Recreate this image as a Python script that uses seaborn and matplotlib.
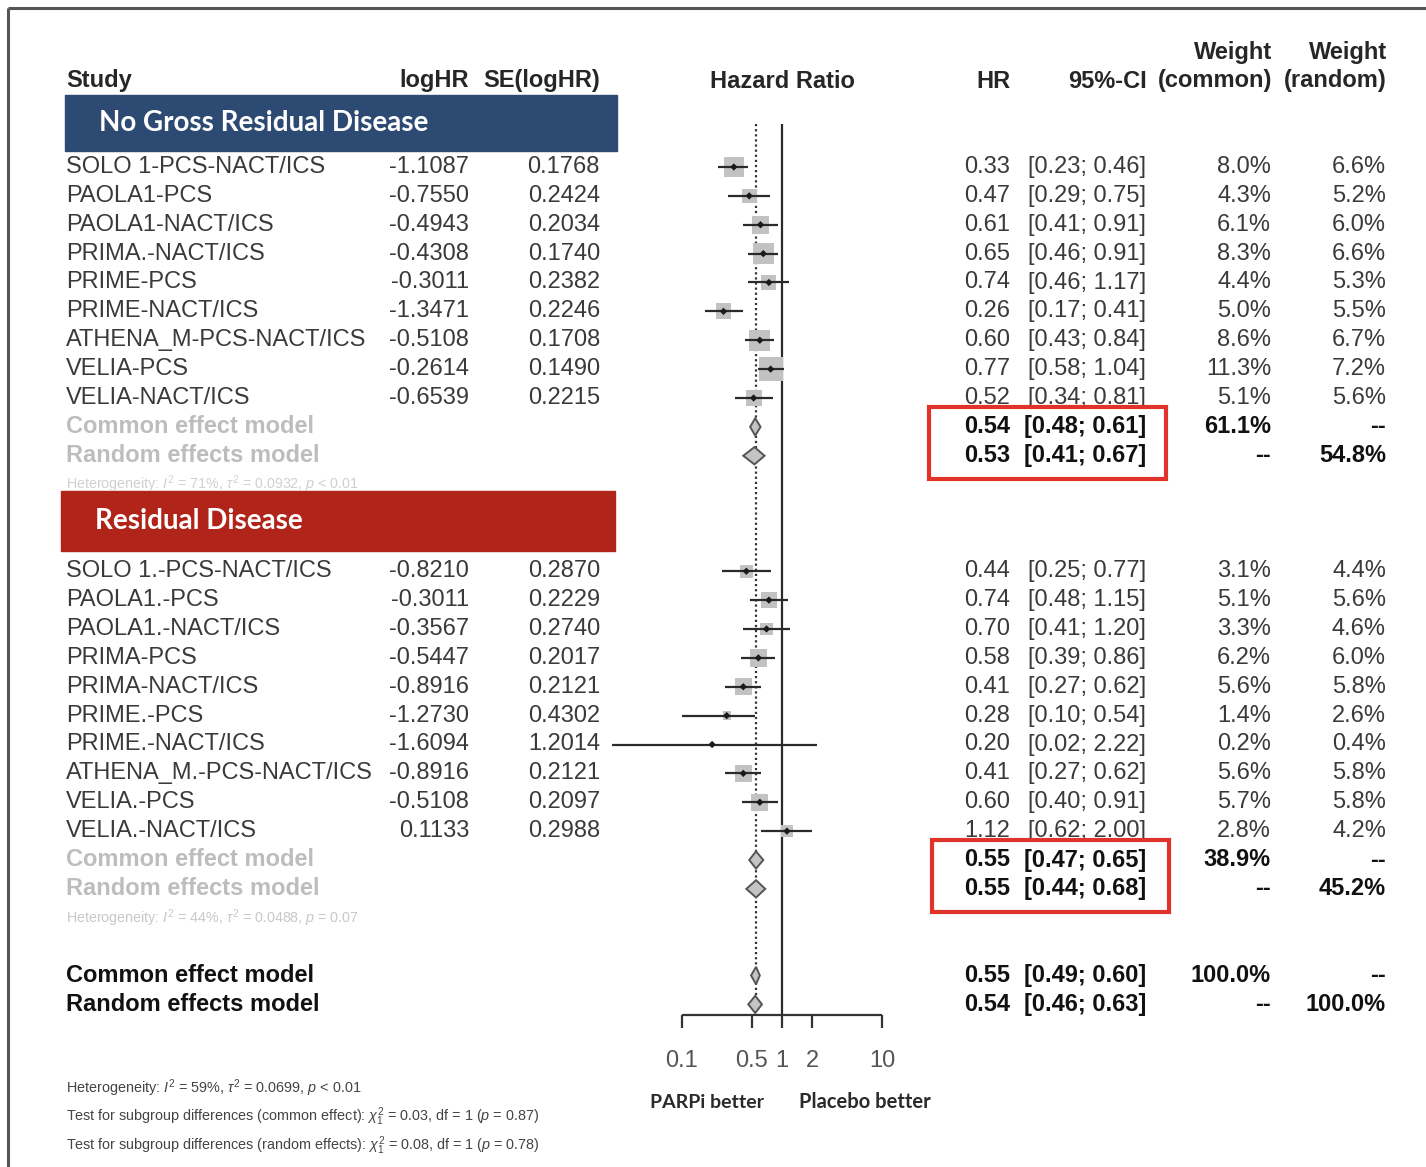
import numpy as np
import pandas as pd
import matplotlib
matplotlib.use("Agg")
import matplotlib.pyplot as plt
from matplotlib.patches import Rectangle, Polygon
import seaborn as sns

# ---- study data -----------------------------------------------------------
g1_study = ["SOLO 1-PCS-NACT/ICS", "PAOLA1-PCS", "PAOLA1-NACT/ICS", "PRIMA.-NACT/ICS",
            "PRIME-PCS", "PRIME-NACT/ICS", "ATHENA_M-PCS-NACT/ICS", "VELIA-PCS",
            "VELIA-NACT/ICS"]
g1_loghr = ["-1.1087", "-0.7550", "-0.4943", "-0.4308", "-0.3011", "-1.3471",
            "-0.5108", "-0.2614", "-0.6539"]
g1_se = ["0.1768", "0.2424", "0.2034", "0.1740", "0.2382", "0.2246", "0.1708",
         "0.1490", "0.2215"]
g1_hr = [0.33, 0.47, 0.61, 0.65, 0.74, 0.26, 0.60, 0.77, 0.52]
g1_lo = [0.23, 0.29, 0.41, 0.46, 0.46, 0.17, 0.43, 0.58, 0.34]
g1_hi = [0.46, 0.75, 0.91, 0.91, 1.17, 0.41, 0.84, 1.04, 0.81]
g1_wc = [8.0, 4.3, 6.1, 8.3, 4.4, 5.0, 8.6, 11.3, 5.1]
g1_wr = [6.6, 5.2, 6.0, 6.6, 5.3, 5.5, 6.7, 7.2, 5.6]

g2_study = ["SOLO 1.-PCS-NACT/ICS", "PAOLA1.-PCS", "PAOLA1.-NACT/ICS", "PRIMA-PCS",
            "PRIMA-NACT/ICS", "PRIME.-PCS", "PRIME.-NACT/ICS", "ATHENA_M.-PCS-NACT/ICS",
            "VELIA.-PCS", "VELIA.-NACT/ICS"]
g2_loghr = ["-0.8210", "-0.3011", "-0.3567", "-0.5447", "-0.8916", "-1.2730",
            "-1.6094", "-0.8916", "-0.5108", "0.1133"]
g2_se = ["0.2870", "0.2229", "0.2740", "0.2017", "0.2121", "0.4302", "1.2014",
         "0.2121", "0.2097", "0.2988"]
g2_hr = [0.44, 0.74, 0.70, 0.58, 0.41, 0.28, 0.20, 0.41, 0.60, 1.12]
g2_lo = [0.25, 0.48, 0.41, 0.39, 0.27, 0.10, 0.02, 0.27, 0.40, 0.62]
g2_hi = [0.77, 1.15, 1.20, 0.86, 0.62, 0.54, 2.22, 0.62, 0.91, 2.00]
g2_wc = [3.1, 5.1, 3.3, 6.2, 5.6, 1.4, 0.2, 5.6, 5.7, 2.8]
g2_wr = [4.4, 5.6, 4.6, 6.0, 5.8, 2.6, 0.4, 5.8, 5.8, 4.2]

# pooled estimates: (label, HR, lower, upper, weight common, weight random)
g1_pooled = [("Common effect model", 0.54, 0.48, 0.61, "61.1%", "--"),
             ("Random effects model", 0.53, 0.41, 0.67, "--", "54.8%")]
g2_pooled = [("Common effect model", 0.55, 0.47, 0.65, "38.9%", "--"),
             ("Random effects model", 0.55, 0.44, 0.68, "--", "45.2%")]
all_pooled = [("Common effect model", 0.55, 0.49, 0.60, "100.0%", "--"),
              ("Random effects model", 0.54, 0.46, 0.63, "--", "100.0%")]

group_titles = ["No Gross Residual Disease", "Residual Disease"]
het_g1 = r"Heterogeneity: $I^2$ = 71%, $\tau^2$ = 0.0932, $p$ < 0.01"
het_g2 = r"Heterogeneity: $I^2$ = 44%, $\tau^2$ = 0.0488, $p$ = 0.07"
footer = [r"Heterogeneity: $I^2$ = 59%, $\tau^2$ = 0.0699, $p$ < 0.01",
          r"Test for subgroup differences (common effect): $\chi^2_1$ = 0.03, df = 1 ($p$ = 0.87)",
          r"Test for subgroup differences (random effects): $\chi^2_1$ = 0.08, df = 1 ($p$ = 0.78)"]
tick_values = [0.1, 0.5, 1, 2, 10]
tick_labels = ["0.1", "0.5", "1", "2", "10"]
side_labels = ["PARPi better", "Placebo better"]

# ---- layout ---------------------------------------------------------------
sns.set_theme(style="white")
plt.rcParams["font.family"] = ["Liberation Sans", "DejaVu Sans"]
plt.rcParams["mathtext.fontset"] = "custom"
plt.rcParams["mathtext.rm"] = "Liberation Sans"
plt.rcParams["mathtext.it"] = "Liberation Sans:italic"

W, H = 1426, 1167
ROW0, STEP = 167.0, 28.875          # first study row (px) and row pitch
X1, DEC = 782.0, 100.0               # HR = 1 position and pixels per decade

def row_y(r):
    return ROW0 + STEP * r

fig = plt.figure(figsize=(W / 100, H / 100), dpi=100)
fig.patch.set_facecolor("white")
ax_t = fig.add_axes([0, 0, 1, 1])
ax_t.set_xlim(0, W)
ax_t.set_ylim(H, 0)
ax_t.axis("off")

fx0, fx1 = 600, 960
ax_f = fig.add_axes([fx0 / W, 0, (fx1 - fx0) / W, 1], zorder=2)
ax_f.patch.set_alpha(0)
ax_f.set_xscale("log")
ax_f.set_xlim(10 ** ((fx0 - X1) / DEC), 10 ** ((fx1 - X1) / DEC))
ax_f.set_ylim((H - ROW0) / STEP, -ROW0 / STEP)
ax_f.axis("off")

# frame
ax_t.plot([8, W], [8, 8], color="#555555", lw=2.2, solid_capstyle="butt")
ax_t.plot([8, 8], [8, H], color="#555555", lw=2.2, solid_capstyle="butt")

TXT = "#3a3a3a"
FS = 17
HDR = dict(fontsize=17, fontweight="bold", color="#262626", va="center")

# column headers
ax_t.text(66, 81, "Study", ha="left", **HDR)
ax_t.text(469, 81, "logHR", ha="right", **HDR)
ax_t.text(600, 81, "SE(logHR)", ha="right", **HDR)
ax_t.text(782, 81, "Hazard Ratio", ha="center", **HDR)
ax_t.text(1010, 81, "HR", ha="right", **HDR)
ax_t.text(1147, 81, "95%-CI", ha="right", **HDR)
ax_t.text(1272, 52, "Weight", ha="right", **HDR)
ax_t.text(1272, 81, "(common)", ha="right", **HDR)
ax_t.text(1387, 52, "Weight", ha="right", **HDR)
ax_t.text(1387, 81, "(random)", ha="right", **HDR)

# group banners
ax_t.add_patch(Rectangle((65, 95), 552, 56, color="#2d4a73", zorder=3))
ax_t.text(99, 123, group_titles[0], color="white", fontsize=20, fontweight="bold",
          family=["Lato", "DejaVu Sans"], va="center", ha="left", zorder=4)
ax_t.add_patch(Rectangle((61, 491), 554, 60, color="#b0241a", zorder=3))
ax_t.text(95, 521, group_titles[1], color="white", fontsize=20, fontweight="bold",
          family=["Lato", "DejaVu Sans"], va="center", ha="left", zorder=4)


def study_rows(start, names, loghr, se, hr, lo, hi, wc, wr):
    rows = np.arange(start, start + len(names))
    for r, n, a, b, h, l, u, c, w in zip(rows, names, loghr, se, hr, lo, hi, wc, wr):
        y = row_y(r)
        ax_t.text(66, y, n, ha="left", va="center", fontsize=FS, color=TXT)
        ax_t.text(469, y, a, ha="right", va="center", fontsize=FS, color=TXT)
        ax_t.text(600, y, b, ha="right", va="center", fontsize=FS, color=TXT)
        ax_t.text(1010, y, f"{h:.2f}", ha="right", va="center", fontsize=FS, color=TXT)
        ax_t.text(1146, y, f"[{l:.2f}; {u:.2f}]", ha="right", va="center", fontsize=FS, color=TXT)
        ax_t.text(1271, y, f"{c:.1f}%", ha="right", va="center", fontsize=FS, color=TXT)
        ax_t.text(1386, y, f"{w:.1f}%", ha="right", va="center", fontsize=FS, color=TXT)
    df = pd.DataFrame({"hr": hr, "lo": lo, "hi": hi, "w": wc, "row": rows})
    # weight squares: side proportional to sqrt(weight)
    side_pt = 7.1 * np.sqrt(df["w"].to_numpy()) * 72 / 100
    sns.scatterplot(data=df, x="hr", y="row", marker="s", s=side_pt ** 2,
                    color="#c2c2c2", edgecolor="none", linewidth=0, ax=ax_f,
                    zorder=3, legend=False, clip_on=False)
    ax_f.hlines(df["row"], df["lo"], df["hi"], color="#2a2a2a", lw=1.6, zorder=4,
                clip_on=False)
    sns.scatterplot(data=df, x="hr", y="row", marker="D", s=14, color="#1a1a1a",
                    edgecolor="none", ax=ax_f, zorder=5, legend=False, clip_on=False)


def pooled_rows(start, pooled, label_color):
    for i, (lab, h, l, u, c, w) in enumerate(pooled):
        r = start + i
        y = row_y(r)
        ax_t.text(66, y, lab, ha="left", va="center", fontsize=FS, color=label_color,
                  fontweight="bold")
        ax_t.text(1010, y, f"{h:.2f}", ha="right", va="center", fontsize=FS,
                  color="#111111", fontweight="bold")
        ax_t.text(1146, y, f"[{l:.2f}; {u:.2f}]", ha="right", va="center", fontsize=FS,
                  color="#111111", fontweight="bold")
        ax_t.text(1271, y, c, ha="right", va="center", fontsize=FS, color="#111111",
                  fontweight="bold")
        ax_t.text(1386, y, w, ha="right", va="center", fontsize=FS, color="#111111",
                  fontweight="bold")
        hh = 0.3
        ax_f.add_patch(Polygon([(l, r), (h, r - hh), (u, r), (h, r + hh)], closed=True,
                               facecolor="#c4c4c4", edgecolor="#555555", lw=1.4,
                               zorder=4, clip_on=False))


study_rows(0, g1_study, g1_loghr, g1_se, g1_hr, g1_lo, g1_hi, g1_wc, g1_wr)
pooled_rows(9, g1_pooled, "#bdbdbd")
ax_t.text(66, row_y(11), het_g1, ha="left", va="center", fontsize=10.3, color="#d0d0d0")

study_rows(14, g2_study, g2_loghr, g2_se, g2_hr, g2_lo, g2_hi, g2_wc, g2_wr)
pooled_rows(24, g2_pooled, "#bdbdbd")
ax_t.text(66, row_y(26), het_g2, ha="left", va="center", fontsize=10.3, color="#c8c8c8")

pooled_rows(28, all_pooled, "#111111")

# highlight boxes around subgroup pooled estimates
for (x, y, w, h) in [(929, 407, 237, 72), (932, 840, 237, 72)]:
    ax_t.add_patch(Rectangle((x, y), w, h, fill=False, edgecolor="#e0332a", lw=3,
                             zorder=5))

# reference lines
top_r = -1.5
axis_r = (1015 - ROW0) / STEP
tick_r = (1028 - ROW0) / STEP
ax_f.vlines(1, top_r, axis_r, color="#2a2a2a", lw=1.6, zorder=2, clip_on=False)
ax_f.vlines(all_pooled[0][1], top_r, (1000 - ROW0) / STEP, color="#333333", lw=1.6,
            linestyles=(0, (1, 1.3)), zorder=2, clip_on=False)

# x axis
ax_f.hlines(axis_r, tick_values[0], tick_values[-1], color="#333333", lw=1.6,
            clip_on=False)
for v, t in zip(tick_values, tick_labels):
    ax_f.vlines(v, axis_r, tick_r, color="#333333", lw=1.6, clip_on=False)
    ax_f.text(v, (1061 - ROW0) / STEP, t, ha="center", va="center", fontsize=17,
              color="#555555")
ax_t.text(707, 1102, side_labels[0], ha="center", va="center", fontsize=14,
          fontweight="bold", color="#2a2a2a", family=["Lato", "DejaVu Sans"])
ax_t.text(865, 1102, side_labels[1], ha="center", va="center", fontsize=14.5,
          fontweight="bold", color="#2a2a2a", family=["Lato", "DejaVu Sans"])

# footer statistics
for y, s in zip([1088, 1117, 1146], footer):
    ax_t.text(66, y, s, ha="left", va="center", fontsize=10.4, color="#444444")

fig.savefig("out.png", dpi=100, facecolor="white")
